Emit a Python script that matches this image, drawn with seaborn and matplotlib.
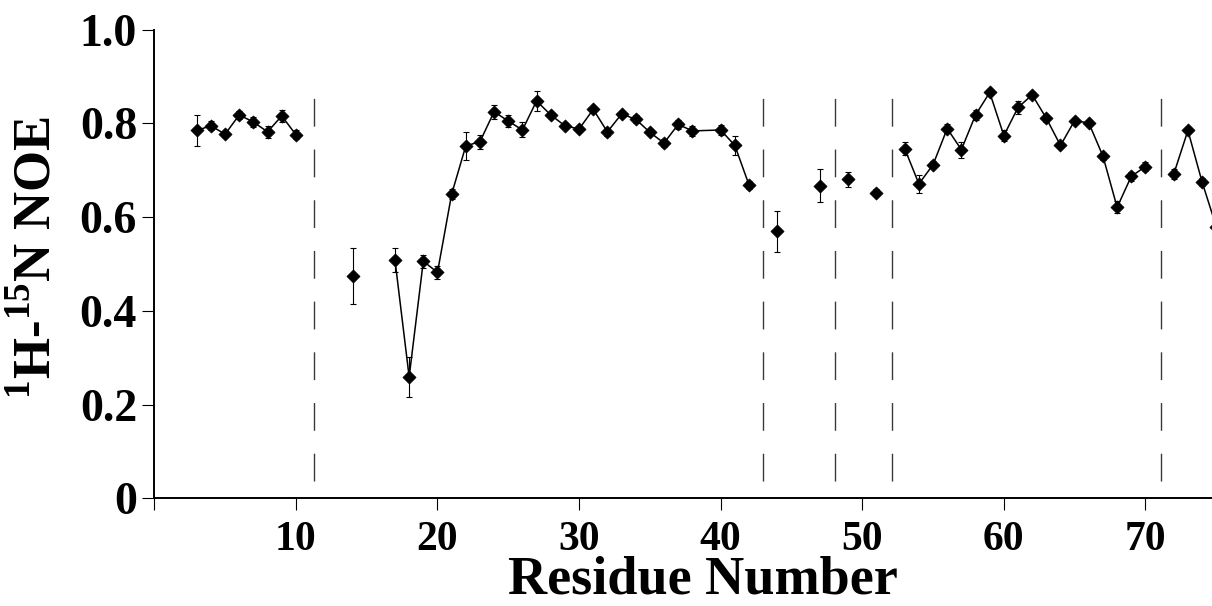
import numpy as np
import pandas as pd
import matplotlib
matplotlib.use("Agg")
import matplotlib.pyplot as plt
import seaborn as sns

residues = [3, 4, 5, 6, 7, 8, 9, 10,
            14,
            17, 18, 19, 20, 21, 22, 23, 24, 25, 26, 27, 28, 29, 30, 31, 32, 33, 34, 35, 36, 37, 38, 40, 41, 42,
            44, 47, 49, 51,
            53, 54, 55, 56, 57, 58, 59, 60, 61, 62, 63, 64, 65, 66, 67, 68, 69, 70,
            72, 73, 74, 75]
noe = [0.785, 0.795, 0.777, 0.818, 0.803, 0.782, 0.816, 0.776,
       0.475,
       0.508, 0.259, 0.506, 0.482, 0.649, 0.752, 0.761, 0.825, 0.805, 0.786, 0.848, 0.818, 0.795,
       0.788, 0.830, 0.782, 0.820, 0.809, 0.781, 0.758, 0.798, 0.784, 0.786, 0.753, 0.669,
       0.570, 0.667, 0.681, 0.652,
       0.746, 0.671, 0.712, 0.789, 0.744, 0.818, 0.866, 0.774, 0.834, 0.861, 0.811, 0.753, 0.806,
       0.801, 0.730, 0.621, 0.687, 0.708,
       0.692, 0.785, 0.675, 0.580]
noe_err = [0.034, 0.010, 0.006, 0.008, 0.011, 0.013, 0.013, 0.010,
           0.060,
           0.026, 0.043, 0.014, 0.014, 0.010, 0.030, 0.015, 0.015, 0.012, 0.016, 0.021, 0.007, 0.006,
           0.006, 0.005, 0.008, 0.006, 0.008, 0.006, 0.008, 0.009, 0.010, 0.010, 0.020, 0.008,
           0.044, 0.035, 0.016, 0.007,
           0.014, 0.019, 0.008, 0.010, 0.017, 0.010, 0.006, 0.012, 0.013, 0.006, 0.008, 0.006, 0.005,
           0.007, 0.007, 0.013, 0.009, 0.010,
           0.010, 0.005, 0.008, 0.010]
# which points are joined by the curve (None = isolated point)
segment = (['A'] * 8 + [None] + ['B'] * 25 + [None] * 4 + ['C'] * 18 + ['D'] * 4)

# region boundaries (dashed lines)
boundaries = [11.3, 43.0, 48.1, 52.1, 71.1]

ytick_vals = [0, 0.2, 0.4, 0.6, 0.8, 1.0]
ytick_labels = ['0', '0.2', '0.4', '0.6', '0.8', '1.0']
xtick_vals = [0, 10, 20, 30, 40, 50, 60, 70]
xtick_labels = ['', '10', '20', '30', '40', '50', '60', '70']

df = pd.DataFrame({'residue': residues, 'noe': noe, 'err': noe_err, 'segment': segment})

sns.set_style("ticks")
plt.rcParams['font.family'] = ['Liberation Serif', 'DejaVu Serif']
plt.rcParams['font.weight'] = 'bold'
plt.rcParams['text.color'] = 'black'
plt.rcParams['xtick.color'] = 'black'
plt.rcParams['ytick.color'] = 'black'
plt.rcParams['mathtext.fontset'] = 'custom'
plt.rcParams['mathtext.rm'] = 'Liberation Serif:bold'
plt.rcParams['mathtext.bf'] = 'Liberation Serif:bold'

fig = plt.figure(figsize=(12.12, 6.06), dpi=100)
ax = fig.add_axes([0.1273, 0.1777, 0.8727, 0.7733])

# connecting curve
sns.lineplot(data=df.dropna(subset=['segment']), x='residue', y='noe', units='segment',
             estimator=None, sort=True, color='black', lw=1.1, ax=ax, legend=False)
# error bars
ax.errorbar(df['residue'], df['noe'], yerr=df['err'], fmt='none', ecolor='black',
            elinewidth=0.8, capsize=2.4, capthick=0.8)
# markers
sns.scatterplot(data=df, x='residue', y='noe', marker='D', s=46, color='black',
                edgecolor='black', linewidth=0.4, ax=ax, legend=False, zorder=5)

ax.vlines(boundaries, 0.036, 0.859, colors='#3a3a3a', lw=1.0, linestyles=(0, (20, 16.5)))

ax.set_xlim(0, 74.7)
ax.set_ylim(0, 1.0)
ax.set_xticks(xtick_vals)
ax.set_xticklabels(xtick_labels, fontsize=30, fontweight='bold')
ax.set_yticks(ytick_vals)
ax.set_yticklabels(ytick_labels, fontsize=33, fontweight='bold')
ax.tick_params(axis='both', length=8.4, width=0.8, color='black')
ax.tick_params(axis='x', pad=8)
ax.tick_params(axis='y', pad=4)
for side in ['top', 'right']:
    ax.spines[side].set_visible(False)
for side in ['left', 'bottom']:
    ax.spines[side].set_linewidth(1.4)
    ax.spines[side].set_color('black')
ax.set_xlabel('')
ax.set_ylabel('')

fig.text(0.58, 0.02, 'Residue Number', fontsize=39, fontweight='bold', ha='center', va='baseline')
fig.text(0.03, 0.574, r'$^{1}$H-$^{15}$N NOE', fontsize=38, fontweight='bold',
         rotation=90, ha='center', va='center')

fig.savefig('out.png', dpi=100)
